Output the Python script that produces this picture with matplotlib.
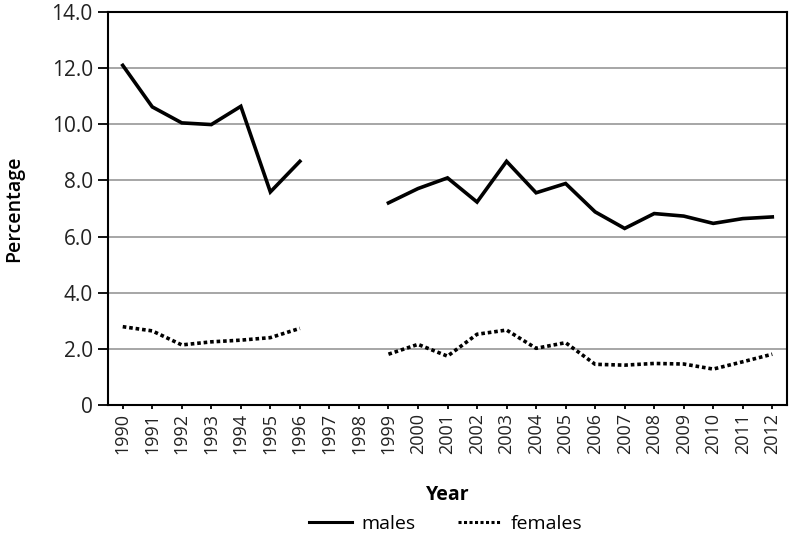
import matplotlib
matplotlib.use("Agg")
import matplotlib.pyplot as plt
import numpy as np

years = [str(y) for y in range(1990, 2013)]
males = [12.10, 10.62, 10.05, 9.99, 10.64, 7.59, 8.68, None, None, 7.20, 7.71, 8.09,
         7.23, 8.68, 7.56, 7.89, 6.88, 6.29, 6.82, 6.73, 6.47, 6.64, 6.70]
females = [2.79, 2.64, 2.14, 2.25, 2.31, 2.40, 2.73, None, None, 1.81, 2.16, 1.74,
           2.52, 2.67, 2.02, 2.22, 1.45, 1.42, 1.48, 1.46, 1.28, 1.54, 1.81]
yticks = [0, 2, 4, 6, 8, 10, 12, 14]
ytick_labels = ["0", "2.0", "4.0", "6.0", "8.0", "10.0", "12.0", "14.0"]

plt.rcParams['font.family'] = ['Open Sans', 'DejaVu Sans']

fig = plt.figure(figsize=(7.91, 5.36), dpi=100)
ax = fig.add_axes([0.1365, 0.2444, 0.995 - 0.1365, 0.9776 - 0.2444])

x = np.arange(len(years))
m = np.array([np.nan if v is None else v for v in males], dtype=float)
f = np.array([np.nan if v is None else v for v in females], dtype=float)

ax.plot(x, m, color='black', lw=2.6, solid_joinstyle='miter', label='males')
ax.plot(x, f, color='black', lw=2.6, linestyle=(0, (1, 0.8)), label='females')

ax.set_xlim(-0.5, len(years) - 0.5)
ax.set_ylim(0, 14)
ax.set_yticks(yticks)
ax.set_yticklabels(ytick_labels, fontsize=15, color='#222222')
ax.set_xticks(x)
ax.set_xticklabels(years, rotation=90, fontsize=13, color='#222222')
ax.tick_params(axis='y', length=7, width=1.3, direction='out', pad=4)
ax.tick_params(axis='x', length=3, width=1.3, direction='out', pad=3)

ax.grid(axis='y', color='#a6a6a6', lw=1.4)
ax.set_axisbelow(True)
for s in ax.spines.values():
    s.set_linewidth(1.5)
    s.set_color('black')

ax.set_ylabel('Percentage', fontsize=14, fontweight='semibold', labelpad=20)
ax.set_xlabel('Year', fontsize=14, fontweight='bold', labelpad=22)

leg = fig.legend(loc='center', bbox_to_anchor=(0.5635, 0.022), ncol=2, frameon=False,
                 fontsize=14, handlelength=2.2, columnspacing=2.2, handletextpad=0.5)
for line in leg.get_lines():
    line.set_linewidth(2.2)

fig.savefig('out.png', dpi=100)
